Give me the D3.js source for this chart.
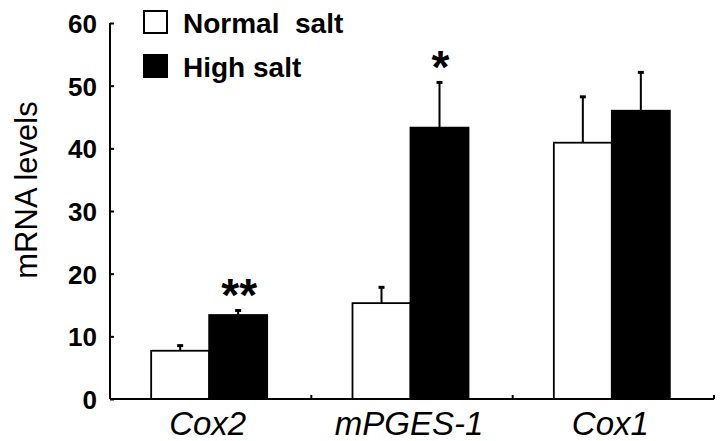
<!DOCTYPE html>
<html><head><meta charset="utf-8">
<script src="https://cdn.jsdelivr.net/npm/d3@7"></script>
<style>
html,body{margin:0;padding:0;background:#fff;}
svg{display:block;font-family:"Liberation Sans",Arial,Helvetica,sans-serif;}
</style></head>
<body>
<svg id="chart" width="727" height="441"></svg>
<script>
const categories = ["Cox2", "mPGES-1", "Cox1"];
const seriesNames = ["Normal  salt", "High salt"];
const normalValues = [7.7, 15.3, 40.9];
const normalErrors = [0.9, 2.6, 7.4];
const highValues = [13.4, 43.3, 46.0];
const highErrors = [0.8, 7.3, 6.2];
const significance = ["**", "*", ""];
const yTicks = [0, 10, 20, 30, 40, 50, 60];
const yLabel = "mRNA levels";

const svg = d3.select("#chart");
const mLeft = 110, mRight = 714, mTop = 23, mBottom = 399;

const y = d3.scaleLinear().domain([0, 60]).range([mBottom, mTop]);
const x0 = d3.scaleBand().domain(categories).range([mLeft, mRight]).padding(0);
const bw = x0.bandwidth();
const barW = 58;
const x1 = d3.scaleBand().domain(seriesNames).range([bw/2 - 1.5 - barW, bw/2 - 1.5 + barW]).padding(0);

const data = categories.map((c, i) => [
  {cat: c, s: seriesNames[0], v: normalValues[i], e: normalErrors[i], fill: "#fff"},
  {cat: c, s: seriesNames[1], v: highValues[i], e: highErrors[i], fill: "#000"}
]);

const flat = data.flat();
const capW = 6;
svg.append("g").selectAll("g").data(flat).join("g").each(function(d){
  const g = d3.select(this);
  const cx = x0(d.cat) + x1(d.s) + x1.bandwidth()/2;
  g.append("line").attr("x1", cx).attr("x2", cx).attr("y1", y(d.v)).attr("y2", y(d.v + d.e))
    .attr("stroke", "#000").attr("stroke-width", 2);
  g.append("line").attr("x1", cx - capW/2).attr("x2", cx + capW/2).attr("y1", y(d.v + d.e) + 0.5).attr("y2", y(d.v + d.e) + 0.5)
    .attr("stroke", "#000").attr("stroke-width", 3);
});

svg.append("g").selectAll("rect").data(flat).join("rect")
  .attr("x", d => x0(d.cat) + x1(d.s))
  .attr("y", d => y(d.v))
  .attr("width", x1.bandwidth())
  .attr("height", d => y(0) - y(d.v))
  .attr("fill", d => d.fill)
  .attr("stroke", "#000").attr("stroke-width", 1.8);

svg.append("g").selectAll("text").data(categories.map((c, i) => ({c, i}))).join("text")
  .attr("x", d => x0(d.c) + x1(seriesNames[1]) + x1.bandwidth()/2 + 1)
  .attr("y", d => y(highValues[d.i] + highErrors[d.i]) + 1)
  .attr("text-anchor", "middle")
  .attr("font-size", 46).attr("font-weight", "bold")
  .text(d => significance[d.i]);

const yAxis = d3.axisLeft(y).tickValues(yTicks).tickSize(-4).tickPadding(13);
const gy = svg.append("g").attr("transform", `translate(${mLeft},0)`).call(yAxis);
gy.select(".domain").attr("stroke-width", 2).attr("d", `M0,${mTop}V${mBottom}`);
gy.selectAll(".tick line").attr("stroke-width", 2);
gy.selectAll(".tick text").attr("font-size", 26).attr("font-weight", "bold")
  .attr("font-family", "'Liberation Sans',Arial,sans-serif").attr("fill", "#000").attr("dy", "0.36em");

const gx = svg.append("g").attr("transform", `translate(0,${mBottom})`);
gx.append("line").attr("x1", mLeft).attr("x2", mRight).attr("y1", 0).attr("y2", 0)
  .attr("stroke", "#000").attr("stroke-width", 2);
gx.selectAll("line.tk").data(categories).join("line").attr("class", "tk")
  .attr("x1", d => x0(d) + bw).attr("x2", d => x0(d) + bw).attr("y1", 0).attr("y2", -4)
  .attr("stroke", "#000").attr("stroke-width", 2);
gx.selectAll("text").data(categories).join("text")
  .attr("x", d => x0(d) + bw/2 - 3).attr("y", 36)
  .attr("text-anchor", "middle").attr("font-size", 33).attr("font-style", "italic")
  .text(d => d);

svg.append("text").attr("transform", `translate(37,${(mTop + mBottom)/2 - 21}) rotate(-90)`)
  .attr("text-anchor", "middle").attr("font-size", 31).text(yLabel);

const legend = svg.append("g");
const legY = [10, 54];
seriesNames.forEach((s, i) => {
  legend.append("rect").attr("x", 144).attr("y", legY[i] + 1).attr("width", 23).attr("height", 22)
    .attr("fill", i === 0 ? "#fff" : "#000").attr("stroke", "#000").attr("stroke-width", 2);
  legend.append("text").attr("x", 183).attr("y", legY[i] + 23)
    .attr("font-size", 28).attr("font-weight", "bold").style("white-space", "pre").text(s);
});
</script>
</body></html>
